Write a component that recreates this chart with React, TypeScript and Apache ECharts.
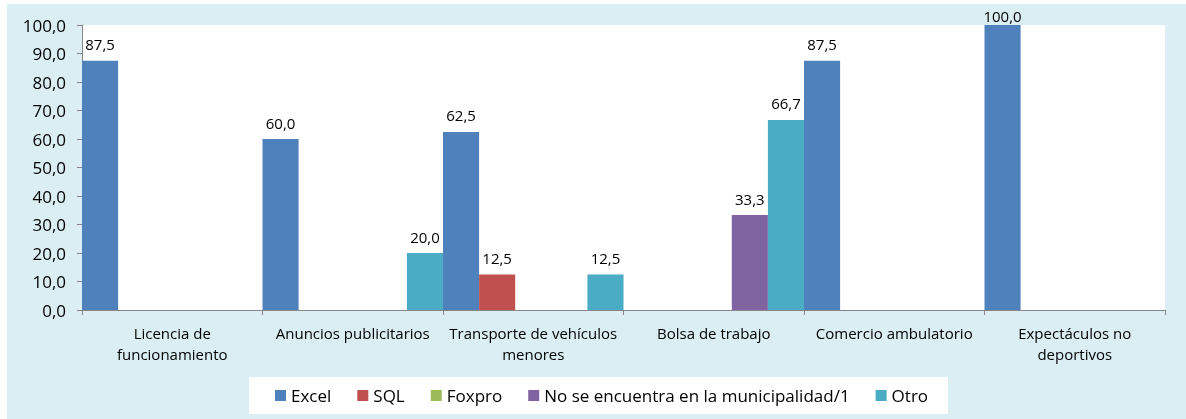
import React, { useEffect, useRef } from "react";
import * as echarts from "echarts";

const categories = [
  "Licencia de\nfuncionamiento",
  "Anuncios publicitarios",
  "Transporte de vehículos\nmenores",
  "Bolsa de trabajo",
  "Comercio ambulatorio",
  "Expectáculos no\ndeportivos",
];
const seriesNames = ["Excel", "SQL", "Foxpro", "No se encuentra en la municipalidad/1", "Otro"];
const excel = [87.5, 60.0, 62.5, 0, 87.5, 100.0];
const sql = [0, 0, 12.5, 0, 0, 0];
const foxpro = [0, 0, 0, 0, 0, 0];
const noSeEncuentra = [0, 0, 0, 33.3, 0, 0];
const otro = [0, 20.0, 12.5, 66.7, 0, 0];
const yTicks = { min: 0, max: 100, interval: 10 };

const colors = ["#4F81BD", "#C0504D", "#9BBB59", "#8064A2", "#4BACC6"];
const FONT = "'Open Sans', sans-serif";

const fmt = (v: number) => v.toFixed(1).replace(".", ",");

export default function App() {
  const ref = useRef<HTMLDivElement>(null);
  useEffect(() => {
    if (!ref.current) return;
    const chart = echarts.init(ref.current, undefined, { renderer: "svg" });
    const values = [excel, sql, foxpro, noSeEncuentra, otro];
    chart.setOption({
      animation: false,
      backgroundColor: "transparent",
      graphic: [
        {
          type: "rect",
          z: -10,
          shape: { x: 7, y: 4, width: 1179, height: 415 },
          style: { fill: "#DAEEF3" },
          silent: true,
        },
      ],
      grid: {
        left: 82,
        right: 21,
        top: 25,
        bottom: 109,
        show: true,
        backgroundColor: "#FFFFFF",
        borderWidth: 0,
      },
      legend: {
        data: seriesNames,
        left: 249,
        top: 377,
        backgroundColor: "#FFFFFF",
        padding: [10, 20, 10, 26],
        itemWidth: 11,
        itemHeight: 11,
        itemGap: 26,
        icon: "rect",
        textStyle: { fontFamily: FONT, fontSize: 17, color: "#000", lineHeight: 16 },
      },
      xAxis: {
        type: "category",
        data: categories,
        axisLine: { show: true, lineStyle: { color: "#868686", width: 1 } },
        axisTick: { show: true, length: 5, lineStyle: { color: "#868686" } },
        axisLabel: {
          interval: 0,
          margin: 12,
          fontFamily: FONT,
          fontSize: 15,
          lineHeight: 21,
          color: "#000",
        },
        splitLine: { show: false },
      },
      yAxis: {
        type: "value",
        min: yTicks.min,
        max: yTicks.max,
        interval: yTicks.interval,
        axisLine: { show: true, lineStyle: { color: "#868686", width: 1 } },
        axisTick: { show: true, length: 5, lineStyle: { color: "#868686" } },
        axisLabel: {
          margin: 16,
          fontFamily: FONT,
          fontSize: 17,
          color: "#000",
          formatter: (v: number) => fmt(v),
        },
        splitLine: { show: false },
      },
      series: seriesNames.map((name, i) => ({
        name,
        type: "bar",
        data: values[i],
        barGap: "0%",
        barCategoryGap: "0%",
        itemStyle: { color: colors[i] },
        label: {
          show: true,
          position: "top",
          distance: 9,
          fontFamily: FONT,
          fontSize: 15,
          color: "#000",
          formatter: (p: any) => (p.value ? fmt(p.value) : ""),
        },
        labelLayout: (p: any) => {
          const r = p.labelRect;
          if (r && r.y < 6) {
            return { x: r.x + r.width / 2, y: 8, align: "center", verticalAlign: "top" };
          }
          return {};
        },
      })),
    });
    return () => chart.dispose();
  }, []);
  return (
    <div
      ref={ref}
      style={{ position: "fixed", left: 0, top: 0, width: 1186, height: 419 }}
    />
  );
}
